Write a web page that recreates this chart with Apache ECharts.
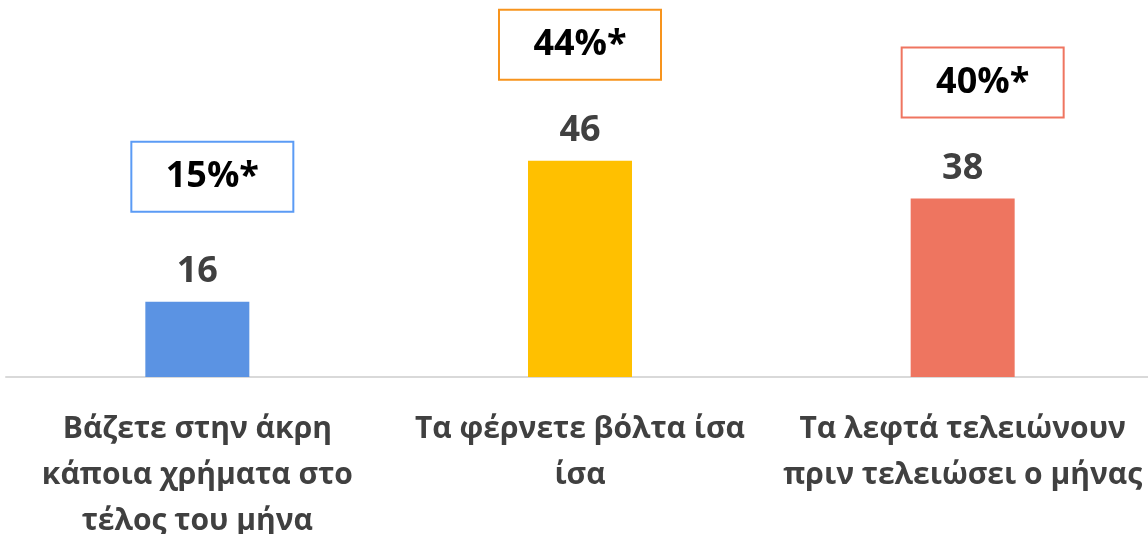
<!DOCTYPE html>
<html>
<head>
<meta charset="utf-8">
<script src="https://cdn.jsdelivr.net/npm/echarts@6/dist/echarts.min.js"></script>
<style>
html, body { margin: 0; padding: 0; background: #fff; }
#main { width: 1148px; height: 534px; }
</style>
</head>
<body>
<div id="main"></div>
<script>
// data
var categories = [
    'Βάζετε στην άκρη\nκάποια χρήματα στο\nτέλος του μήνα',
    'Τα φέρνετε βόλτα ίσα\nίσα',
    'Τα λεφτά τελειώνουν\nπριν τελειώσει ο μήνας'
];
var values = [16, 46, 38];
var prevPct = ['15%*', '44%*', '40%*'];

var barColors = ['#5b93e3', '#ffc000', '#ee7560'];
var boxColors = ['#5b9bf5', '#f7941d', '#ef7560'];
// box label offsets from bar top
var boxShift = [[15, -125], [0, -116], [20, -116]];

var chart = echarts.init(document.getElementById('main'));

var option = {
    animation: false,
    grid: { left: 6, right: -6, top: 1, bottom: 157, outerBoundsMode: 'none', containLabel: false },
    xAxis: {
        type: 'category',
        data: categories,
        axisTick: { show: false },
        axisLine: { lineStyle: { color: '#d9d9d9', width: 2 } },
        axisLabel: {
            margin: 29,
            fontFamily: 'Open Sans',
            fontWeight: 'bold',
            fontSize: 30,
            lineHeight: 46,
            color: '#404040',
            interval: 0
        }
    },
    yAxis: {
        type: 'value',
        min: 0,
        max: 80,
        show: false,
        splitLine: { show: false }
    },
    series: [{
        type: 'bar',
        barWidth: 104,
        data: values.map(function (v, i) {
            return { value: v, itemStyle: { color: barColors[i] } };
        }),
        label: {
            show: true,
            position: 'top',
            distance: 12,
            fontFamily: 'Open Sans',
            fontWeight: 'bold',
            fontSize: 36,
            color: '#404040'
        }
    }, {
        type: 'scatter',
        symbolSize: 0,
        silent: true,
        itemStyle: { opacity: 1 },
        data: values.map(function (v, i) {
            return {
                value: v,
                label: {
                    show: true,
                    position: 'inside',
                    offset: boxShift[i],
                    formatter: prevPct[i],
                    borderColor: boxColors[i]
                }
            };
        }),
        label: {
            show: true,
            fontFamily: 'Open Sans',
            fontWeight: 'bold',
            fontSize: 36,
            color: '#000',
            backgroundColor: '#fff',
            borderWidth: 2,
            width: 160,
            height: 68,
            lineHeight: 68,
            align: 'center',
            verticalAlign: 'middle'
        }
    }]
};

chart.setOption(option);
</script>
</body>
</html>
